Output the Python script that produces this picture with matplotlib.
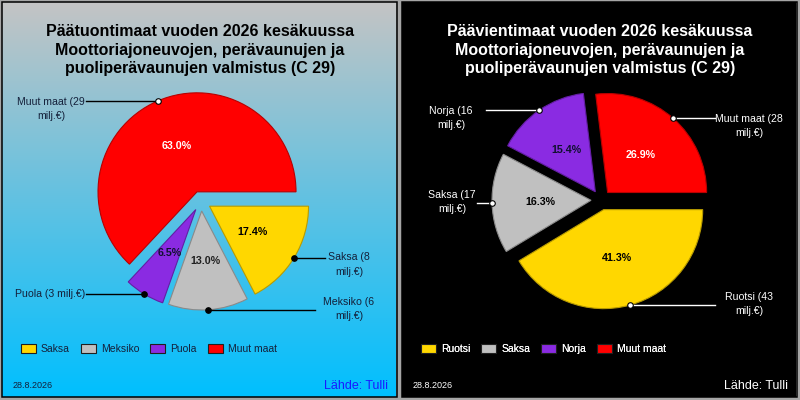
import matplotlib
matplotlib.use("Agg")
import matplotlib.pyplot as plt
import matplotlib.colors as mcolors
from matplotlib.patches import Rectangle, Patch
import numpy as np

plt.rcParams['font.family'] = ['Liberation Sans', 'DejaVu Sans']

# ---------------- data ----------------
import_title = ["Päätuontimaat vuoden 2026 kesäkuussa",
                "Moottoriajoneuvojen, perävaunujen ja",
                "puoliperävaunujen valmistus (C 29)"]
export_title = ["Päävientimaat vuoden 2026 kesäkuussa",
                "Moottoriajoneuvojen, perävaunujen ja",
                "puoliperävaunujen valmistus (C 29)"]

import_countries = ["Saksa", "Meksiko", "Puola", "Muut maat"]
import_values = [8, 6, 3, 29]          # milj. €
import_callouts = ["Saksa (8\nmilj.€)", "Meksiko (6\nmilj.€)",
                   "Puola (3 milj.€)", "Muut maat (29\nmilj.€)"]

export_countries = ["Ruotsi", "Saksa", "Norja", "Muut maat"]
export_values = [43, 17, 16, 28]       # milj. €
export_callouts = ["Ruotsi (43\nmilj.€)", "Saksa (17\nmilj.€)",
                   "Norja (16\nmilj.€)", "Muut maat (28\nmilj.€)"]

date_text = "28.8.2026"
source_text = "Lähde: Tulli"

slice_colors = ["#FFD700", "#C0C0C0", "#8A2BE2", "#FF0000"]

# ---------------- layout (image pixel units) ----------------
W, H = 800, 400
fig = plt.figure(figsize=(8, 4), dpi=100, facecolor="#a6a6a6")
ax = fig.add_axes([0, 0, 1, 1])
ax.set_facecolor("none")


def Y(py):
    return H - py


def darken(c, f=0.7):
    r, g, b = mcolors.to_rgb(c)
    return (r * f, g * f, b * f)


panels = [
    dict(x0=0, title=import_title, countries=import_countries, values=import_values,
         callouts=import_callouts, center=(201, 201), bg="gradient",
         title_color="black", text_color="#14203a", line_color="black",
         pct_colors=["black", "#202020", "#101030", "white"],
         marker_face=["black", "black", "black", "white"], marker_edge="black",
         # (line end x, text centre x, text dy) per slice
         call_layout=[(325, 349, 7), (315, 349, -1), (86, 50, 0), (86, 51, 8)],
         source_color="#1a1aff", date_color="#14203a"),
    dict(x0=400, title=export_title, countries=export_countries, values=export_values,
         callouts=export_callouts, center=(201, 200), bg="black",
         title_color="white", text_color="white", line_color="white",
         pct_colors=["black", "black", "#101030", "white"],
         marker_face=["white", "white", "white", "white"], marker_edge="black",
         call_layout=[(315, 349, -1), (77, 52, -1), (86, 51, 7.5), (315, 349, 7.5)],
         source_color="white", date_color="white"),
]

R = 99
EXPL = 10

for p in panels:
    x0 = p["x0"]
    # background
    if p["bg"] == "gradient":
        top = np.array(mcolors.to_rgb("#C4C4C4"))
        bot = np.array(mcolors.to_rgb("#00BFFF"))
        t = np.linspace(0, 1, 256)[:, None]
        grad = (top[None, :] * (1 - t) + bot[None, :] * t)[:, None, :]
        ax.imshow(grad, extent=[x0 + 2, x0 + 396, Y(397), Y(2)], origin="upper",
                  aspect="auto", interpolation="bilinear", zorder=0)
    else:
        ax.add_patch(Rectangle((x0 + 2, Y(397)), 394, 395, facecolor="black",
                               edgecolor="none", zorder=0))
    ax.add_patch(Rectangle((x0 + 1.5, Y(396.5)), 395, 395, fill=False,
                           edgecolor="black", linewidth=1.1, zorder=5))

    # titles
    for i, line in enumerate(p["title"]):
        ax.text(x0 + 200, Y(31 + 19 * i), line, ha="center", va="center",
                fontsize=11.5, fontweight="bold", color=p["title_color"], zorder=6)

    # pie
    cx, cy = x0 + p["center"][0], Y(p["center"][1])
    wedges, _, autotexts = ax.pie(
        p["values"], colors=slice_colors, startangle=0, counterclock=False,
        explode=[EXPL] * len(p["values"]), radius=R, center=(cx, cy),
        autopct="%.1f%%", pctdistance=0.51, frame=True,
        wedgeprops=dict(linewidth=0.8),
        textprops=dict(fontsize=7.7, fontweight="bold"))
    for w, col in zip(wedges, slice_colors):
        w.set_edgecolor(darken(col, 0.72))
        w.set_zorder(2)
    for at, col in zip(autotexts, p["pct_colors"]):
        at.set_color(col)
        at.set_zorder(4)

    # callouts
    for i, (w, lab) in enumerate(zip(wedges, p["callouts"])):
        thm = np.deg2rad((w.theta1 + w.theta2) / 2)
        wx, wy = w.center
        mx, my = wx + R * np.cos(thm), wy + R * np.sin(thm)
        lx, tx, dy = p["call_layout"][i]
        ax.plot([mx, x0 + lx], [my, my], color=p["line_color"], lw=1.0, zorder=3)
        ax.plot([mx], [my], marker="o", ms=4, mfc=p["marker_face"][i],
                mec=p["marker_edge"], mew=0.8, zorder=4)
        ax.text(x0 + tx, my - dy, lab, ha="center", va="center", multialignment="center",
                fontsize=7.6, color=p["text_color"], linespacing=1.55, zorder=6)

    # legend
    handles = [Patch(facecolor=c, edgecolor="#202020", linewidth=0.8) for c in slice_colors]
    leg = ax.legend(handles, p["countries"], ncol=4, loc="center left",
                    bbox_to_anchor=(x0 + 21, Y(349)), bbox_transform=ax.transData,
                    frameon=False, borderpad=0, borderaxespad=0,
                    handlelength=1.44, handleheight=0.96, handletextpad=0.48,
                    columnspacing=1.06, fontsize=7.5, labelcolor=p["text_color"])
    ax.add_artist(leg)

    # footer
    ax.text(x0 + 13, Y(385), date_text, ha="left", va="center", fontsize=6.5,
            color=p["date_color"], zorder=6)
    ax.text(x0 + 388, Y(386), source_text, ha="right", va="center", fontsize=9,
            color=p["source_color"], zorder=6)

ax.set_xlim(0, W)
ax.set_ylim(0, H)
ax.set_aspect("auto")
ax.axis("off")

fig.savefig("out.png", dpi=100, facecolor=fig.get_facecolor())
